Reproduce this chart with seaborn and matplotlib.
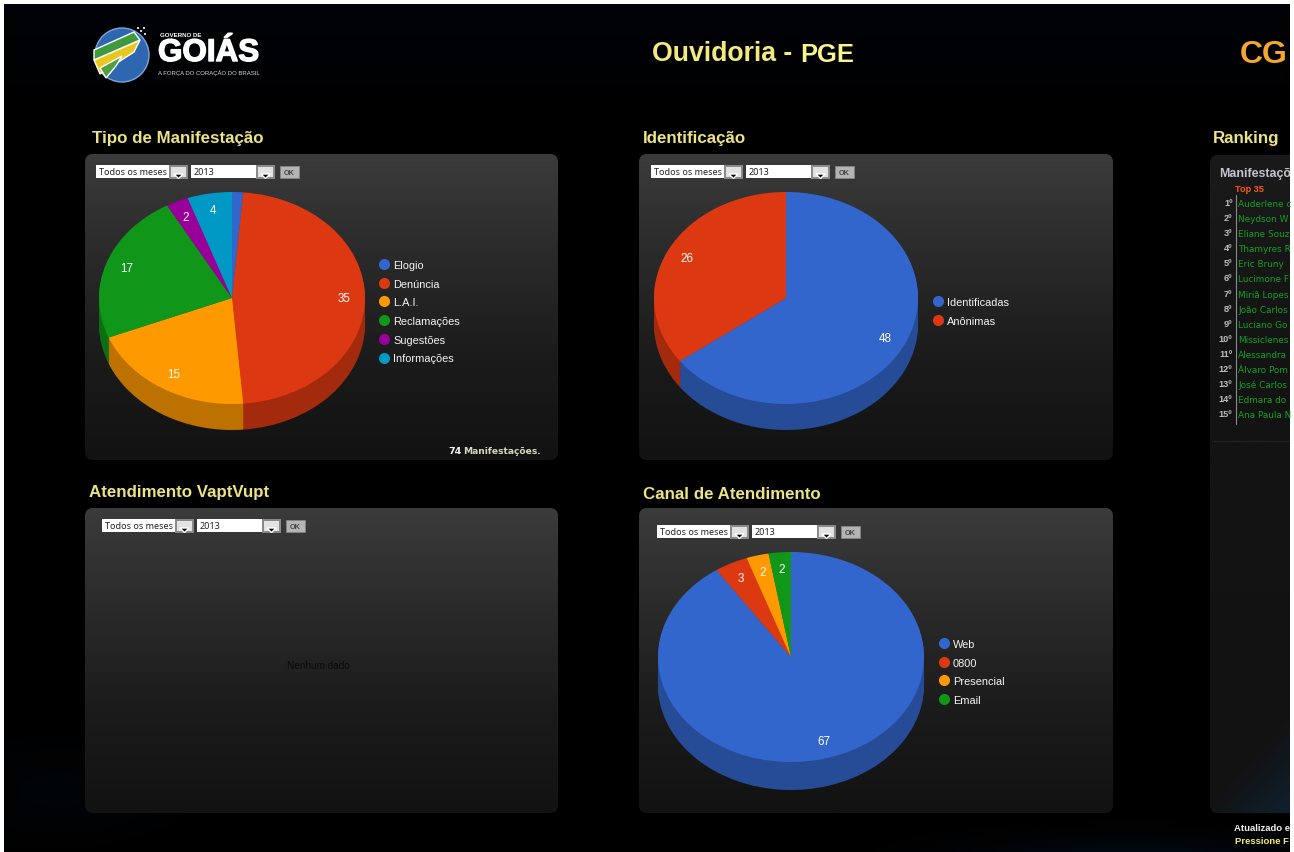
import numpy as np
import seaborn as sns
from matplotlib import pyplot as plt
from matplotlib import patheffects as pe
from matplotlib.colors import to_rgb, LinearSegmentedColormap
from matplotlib.lines import Line2D
from matplotlib.patches import Circle, FancyBboxPatch, Polygon, Rectangle

# %% Data
TipoLabels = ['Elogio', 'Denúncia', 'L.A.I.', 'Reclamações', 'Sugestões', 'Informações']
TipoValues = [1, 35, 15, 17, 2, 4]
IdentLabels = ['Identificadas', 'Anônimas']
IdentValues = [48, 26]
CanalLabels = ['Web', '0800', 'Presencial', 'Email']
CanalValues = [67, 3, 2, 2]
# only the part of the names that shows before the page border
RankNames = ['Auderlene c', 'Neydson W', 'Eliane Souz', 'Thamyres R', 'Eric Bruny',
             'Lucimone F', 'Miriã Lopes', 'João Carlos', 'Luciano Go', 'Missiclenes',
             'Alessandra', 'Álvaro Pom', 'José Carlos', 'Edmara do', 'Ana Paula N']
Palette = ['#3366CC', '#DC3912', '#FF9900', '#109618', '#990099', '#0099C6']

sns.set_theme(style='dark', rc={'figure.facecolor': 'white', 'axes.facecolor': 'none'})
plt.rcParams['font.family'] = ['Liberation Sans', 'DejaVu Sans']
Colors = sns.color_palette(Palette)

W, H = 1294, 853
fig = plt.figure(figsize=(W / 100, H / 100), dpi=100)


def AxPx(x0, y0, x1, y1, **kw):
    return fig.add_axes([x0 / W, 1 - y1 / H, (x1 - x0) / W, (y1 - y0) / H], **kw)


# main axes in pixel coords, it also clips the stuff cut at the right border
ax = AxPx(4, 5, 1290, 853)
ax.set_axis_off()
XLIM, YLIM = (4, 1290), (852, 4)

# %% Background
yy, xx = np.mgrid[4:852, 4:1290]
bg = np.zeros(yy.shape + (3,))
top = np.clip(1 - (yy - 5) / 130, 0, 1)
bg[..., 1] += 0.010 * top
bg[..., 2] += 0.030 * top
glow = (np.exp(-(((xx - 60) / 110) ** 2 + ((yy - 790) / 45) ** 2)) * 0.03
        + np.exp(-(((xx - 1130) / 170) ** 2 + ((yy - 860) / 25) ** 2)) * 0.07)
bg[..., 1] += glow * 0.6
bg[..., 2] += glow
ax.imshow(np.clip(bg, 0, 1), extent=(4, 1290, 852, 4), aspect='auto', zorder=0)

PanelCmap = LinearSegmentedColormap.from_list('panel', ['#3b3b3b', '#2a2a2a', '#1b1b1b', '#121212'])


def Panel(x0, y0, x1, y1, cmap=PanelCmap):
    box = FancyBboxPatch((x0 + 8, y0 + 8), x1 - x0 - 16, y1 - y0 - 16, boxstyle='round,pad=8',
                         fc='none', ec='none', zorder=1)
    ax.add_patch(box)
    im = ax.imshow(np.linspace(0, 1, 256)[:, None], extent=(x0, x1, y1, y0), cmap=cmap,
                   aspect='auto', zorder=1, vmin=0, vmax=1)
    im.set_clip_path(box)


Panel(85, 154, 558, 460)
Panel(639, 154, 1113, 460)
Panel(85, 508, 558, 813)
Panel(639, 508, 1113, 813)
RankCmap = LinearSegmentedColormap.from_list('rank', ['#1a1a1a', '#131313', '#131313', '#121212'])
Panel(1210, 155, 1320, 813, RankCmap)
# blue tint of the ranking panel bottom
ry, rx = np.mgrid[700:813, 1212:1290]
tint = np.zeros(ry.shape + (4,))
tint[..., :3] = to_rgb('#10222e')
tint[..., 3] = np.clip(((rx - 1212) / 78 + (ry - 800) / 90), 0, 1) * 0.9
ax.imshow(tint, extent=(1212, 1290, 813, 700), aspect='auto', zorder=1.1)
ax.set_xlim(*XLIM)
ax.set_ylim(*YLIM)


# %% Header
def Title(x, y, s):
    ax.text(x, y, s, color='#ECE384', fontsize=12.2, fontweight='bold', va='center', zorder=3)


Title(92, 137, 'Tipo de Manifestação')
Title(643, 138, 'Identificação')
Title(89, 492, 'Atendimento VaptVupt')
Title(643, 494, 'Canal de Atendimento')
Title(1213, 137, 'Ranking')

ax.text(652, 53, 'Ouvidoria -', color='#F2EA7E', fontsize=19.2, fontweight='bold', va='center', zorder=3)
ax.text(800, 54, 'PGE', color='#FBF38C', fontsize=18.4, fontweight='bold', va='center', zorder=3)
ax.text(1240, 54, 'CG', color='#F5A631', fontsize=23, fontweight='bold', va='center', zorder=3)

# logo
ax.add_patch(Circle((122, 55), 27, fc='#2E66B0', ec='#7fa6d8', lw=1, zorder=3))
ax.add_patch(Polygon([(94, 60), (140, 40), (134, 52), (100, 74)], fc='#E8C81E', zorder=4))
ax.add_patch(Polygon([(94, 50), (134, 32), (140, 40), (94, 60)], fc='#3E9A3C', zorder=4))
ax.add_patch(Polygon([(100, 68), (122, 56), (116, 66), (106, 78)], fc='#4FA040', zorder=4))
for sx, sy in ((140, 30), (144, 33), (137, 27), (143, 27)):
    ax.add_patch(Rectangle((sx, sy), 2, 2, fc='#cfcfcf', ec='none', zorder=4))
ax.text(160, 34.5, 'GOVERNO DE', color='white', fontsize=4.4, fontweight='bold', va='center', zorder=3)
ax.text(158, 53, 'GOIÁS', color='white', fontsize=22.6, fontweight='bold', va='center', zorder=3,
        path_effects=[pe.withStroke(linewidth=1.0, foreground='white')])
ax.text(158, 72, 'A FORÇA DO CORAÇÃO DO BRASIL', color='#d8d8d8', fontsize=4.3, va='center', zorder=3)


# %% Month and year selectors
def Selector(x, y):
    for x0, x1, s in ((x, x + 73, 'Todos os meses'), (x + 95, x + 160, '2013')):
        ax.add_patch(Rectangle((x0, y), x1 - x0, 13, fc='white', ec='none', zorder=3))
        ax.text(x0 + 3, y + 6.7, s, color='#222222', fontsize=6.5, family='Noto Sans',
                va='center', zorder=4)
        ax.add_patch(Rectangle((x1, y - 0.5), 19, 14, fc='#8a8a8a', ec='none', zorder=3))
        ax.add_patch(Rectangle((x1 + 2, y + 1.5), 15, 10, fc='#e2e2e2', ec='none', zorder=3))
        ax.add_patch(Polygon([(x1 + 5, y + 9), (x1 + 14, y + 9), (x1 + 9.5, y + 13.5)], fc='black', zorder=4))
    ax.add_patch(Rectangle((x + 184, y + 1), 19, 12, fc='#b4b4b4', ec='#888888', lw=0.5, zorder=3))
    ax.text(x + 193.5, y + 7.3, 'OK', color='#444444', fontsize=5.2, fontweight='bold',
            ha='center', va='center', zorder=4)


Selector(96, 165)
Selector(651, 165)
Selector(102, 519)
Selector(657, 525)

ax.text(318, 665, 'Nenhum dado', color='#0a0a0a', fontsize=7.2, ha='center', va='center', zorder=3)
ax.text(448, 450.5, '74', color='#f2f2f2', fontsize=6.8, fontweight='bold', family='DejaVu Sans',
        va='center', zorder=3)
ax.text(463, 450.5, 'Manifestações.', color='#d6d6c0', fontsize=6.6, fontweight='bold', family='DejaVu Sans',
        va='center', zorder=3)


# %% Pies
def Pie3D(cx, cy, rx, ry, depth, values, labels, legX, legY):
    axp = AxPx(cx - rx, cy - ry + 1, cx + rx, cy + ry + depth + 1)
    axp.patch.set_alpha(0)
    cols = Colors[:len(values)]
    dark = [tuple(c * 0.74 for c in col) for col in cols]
    d = depth / ry
    for off in np.linspace(d, 0, depth + 1)[:-1]:
        axp.pie(values, colors=dark, center=(0, -off), startangle=90, counterclock=False,
                wedgeprops={'linewidth': 0})
    total = sum(values)

    def lab(pct):
        v = int(round(pct * total / 100))
        return str(v) if v > 1 else ''

    axp.pie(values, colors=cols, startangle=90, counterclock=False, autopct=lab, pctdistance=0.84,
            wedgeprops={'linewidth': 0}, textprops={'color': 'white', 'fontsize': 8.4})
    axp.set_aspect('auto')
    axp.set_xlim(-1, 1)
    axp.set_ylim(-1 - d, 1)
    handles = [Line2D([], [], ls='', marker='o', ms=8, mew=0, color=c) for c in cols]
    axp.legend(handles, labels, loc='upper left', bbox_to_anchor=(legX, legY), bbox_transform=ax.transData,
               frameon=False, borderpad=0, borderaxespad=0, handletextpad=0.15, handlelength=1.4,
               labelspacing=0.79, fontsize=7.9, labelcolor='#f4f4f4')


Pie3D(232, 298, 133, 106, 26, TipoValues, TipoLabels, 376, 260)
Pie3D(786, 298, 132, 106, 26, IdentValues, IdentLabels, 930, 297)
Pie3D(791, 657, 133, 105, 28, CanalValues, CanalLabels, 936, 639)

# %% Ranking
ax.text(1219, 173, 'Manifestaçõ', color='#c4c4d2', fontsize=8.9, fontweight='bold', va='center', zorder=3)
ax.text(1235, 188.5, 'Top 35', color='#FF5A10', fontsize=6.6, fontweight='bold', va='center', zorder=3)
ax.plot([1236, 1236], [195, 424], color='#8a8a8a', lw=0.8, zorder=3)
ax.plot([1214, 1290], [440.5, 440.5], color='#222222', lw=1, zorder=3)
for i, name in enumerate(RankNames):
    y = 203.5 + i * 15.1
    ax.text(1232.5, y - 1, f'{i + 1}º', color='#bdbdbd', fontsize=6.6, fontweight='bold', ha='right',
            va='center', zorder=3)
    ax.text(1238, y, name, color='#12A024', fontsize=6.4, family='DejaVu Sans', va='center', zorder=3)
ax.text(1234, 827.5, 'Atualizado e', color='#f0f0f0', fontsize=6.8, fontweight='bold', va='center', zorder=3)
ax.text(1235, 840.5, 'Pressione F', color='#F2EE6A', fontsize=6.8, fontweight='bold', va='center', zorder=3)

fig.savefig('out.png', dpi=100, facecolor='white')
